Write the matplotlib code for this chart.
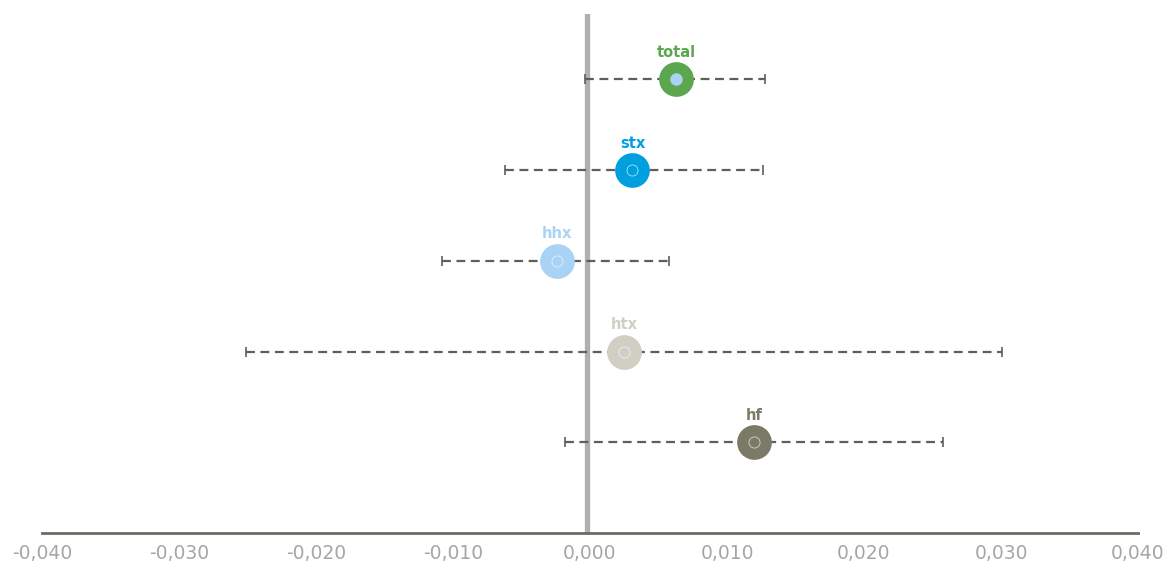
import matplotlib.pyplot as plt
from matplotlib.ticker import FuncFormatter

# datos
labels = ["hf", "htx", "hhx", "stx", "total"]
estimates = [0.0120, 0.0025, -0.0024, 0.0031, 0.0063]
lower = [-0.0018, -0.0251, -0.0108, -0.0062, -0.0004]
upper = [0.0258, 0.0301, 0.0058, 0.0126, 0.0128]
colors = ["#7A7A66", "#D0CFC3", "#A9D3F5", "#009FE0", "#5BA64E"]
x_ticks = [-0.04, -0.03, -0.02, -0.01, 0.0, 0.01, 0.02, 0.03, 0.04]

fig = plt.figure(figsize=(11.68, 5.68), dpi=100)
ax = fig.add_axes([42 / 1168, 35 / 568, 1096 / 1168, 519 / 568])

ax.axvline(-0.0002, color="#AFAFAF", lw=3.8, zorder=1)

ypos = list(range(1, len(labels) + 1))
for y, est, lo, hi, c, lab in zip(ypos, estimates, lower, upper, colors, labels):
    eb = ax.errorbar(est, y, xerr=[[est - lo], [hi - est]], fmt="none",
                     ecolor="#5F5F55", elinewidth=1.6, capsize=3.5, capthick=1.2,
                     zorder=2)
    eb.lines[2][0].set_linestyle((0, (4, 2.5)))
    ax.plot(est, y, "o", ms=25, color=c, mec="none", zorder=3)
    if lab == "total":
        ax.plot(est, y, "o", ms=9, color="#A9D3F5", mec="none", zorder=4)
    else:
        ax.plot(est, y, "o", ms=8, mfc="none", mec="white", mew=0.5,
                alpha=0.8, zorder=4)
    ax.annotate(lab, (est, y), xytext=(0, 14), textcoords="offset points",
                ha="center", va="bottom", color=c, fontsize=10.5,
                fontweight="bold")

ax.set_xlim(-0.04, 0.04)
ax.set_ylim(0, 5.72)
ax.set_xticks(x_ticks)
ax.xaxis.set_major_formatter(FuncFormatter(lambda v, p: f"{v:.3f}".replace(".", ",").replace("-0,000", "0,000")))
ax.tick_params(axis="x", length=0, labelsize=13.5, colors="#A6A6A6", pad=8)
ax.set_yticks([])
for s in ["top", "left", "right"]:
    ax.spines[s].set_visible(False)
ax.spines["bottom"].set_color("#6B6B5E")
ax.spines["bottom"].set_linewidth(2)

fig.savefig("out.png", dpi=100)
